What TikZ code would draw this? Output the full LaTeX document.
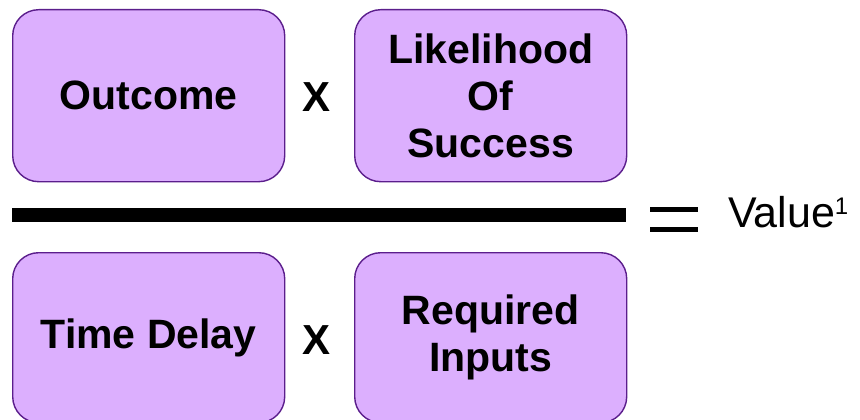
\documentclass[tikz,border=0pt]{standalone}
\usepackage{fontspec}
\setmainfont{Liberation Sans}
\begin{document}
\begin{tikzpicture}[x=1pt,y=-1pt,
  box/.style={draw=boxline, fill=boxfill, line width=1.4pt, rounded corners=26pt,
    minimum width=272pt, anchor=north west, inner sep=0pt, align=center,
    font=\fontsize{41}{47}\selectfont\bfseries},
  times/.style={font=\fontsize{42}{46}\selectfont\bfseries},
  bar/.style={line width=14pt}]
\definecolor{boxfill}{HTML}{DCAFFE}
\definecolor{boxline}{HTML}{5B1E8C}
\useasboundingbox (0,0) rectangle (860,420);
\node[box, minimum height=172pt] (out) at (12,9) {Outcome};
\node[box, minimum height=172pt] (lik) at (354,9) {Likelihood\\Of\\Success};
\node[box, minimum height=170pt] (tim) at (12,252) {Time Delay};
\node[box, minimum height=170pt] (req) at (354,252) {Required\\Inputs};
\node[times] (x1) at (317,97) {X};
\node[times] (x2) at (317,340) {X};
\coordinate (barl) at (12,215);
\coordinate (barr) at (626,215);
\draw[bar] (barl) -- (barr);
\coordinate (e1l) at (650,209.5); \coordinate (e1r) at (698,209.5);
\coordinate (e2l) at (650,229); \coordinate (e2r) at (698,229);
\draw[line width=5pt] (e1l) -- (e1r);
\draw[line width=5pt] (e2l) -- (e2r);
\node[anchor=base west, inner sep=0pt, font=\fontsize{43}{46}\selectfont] (val) at (728,227) {Value{\fontsize{24}{26}\selectfont\raisebox{13pt}{1}}};
\end{tikzpicture}
\end{document}
